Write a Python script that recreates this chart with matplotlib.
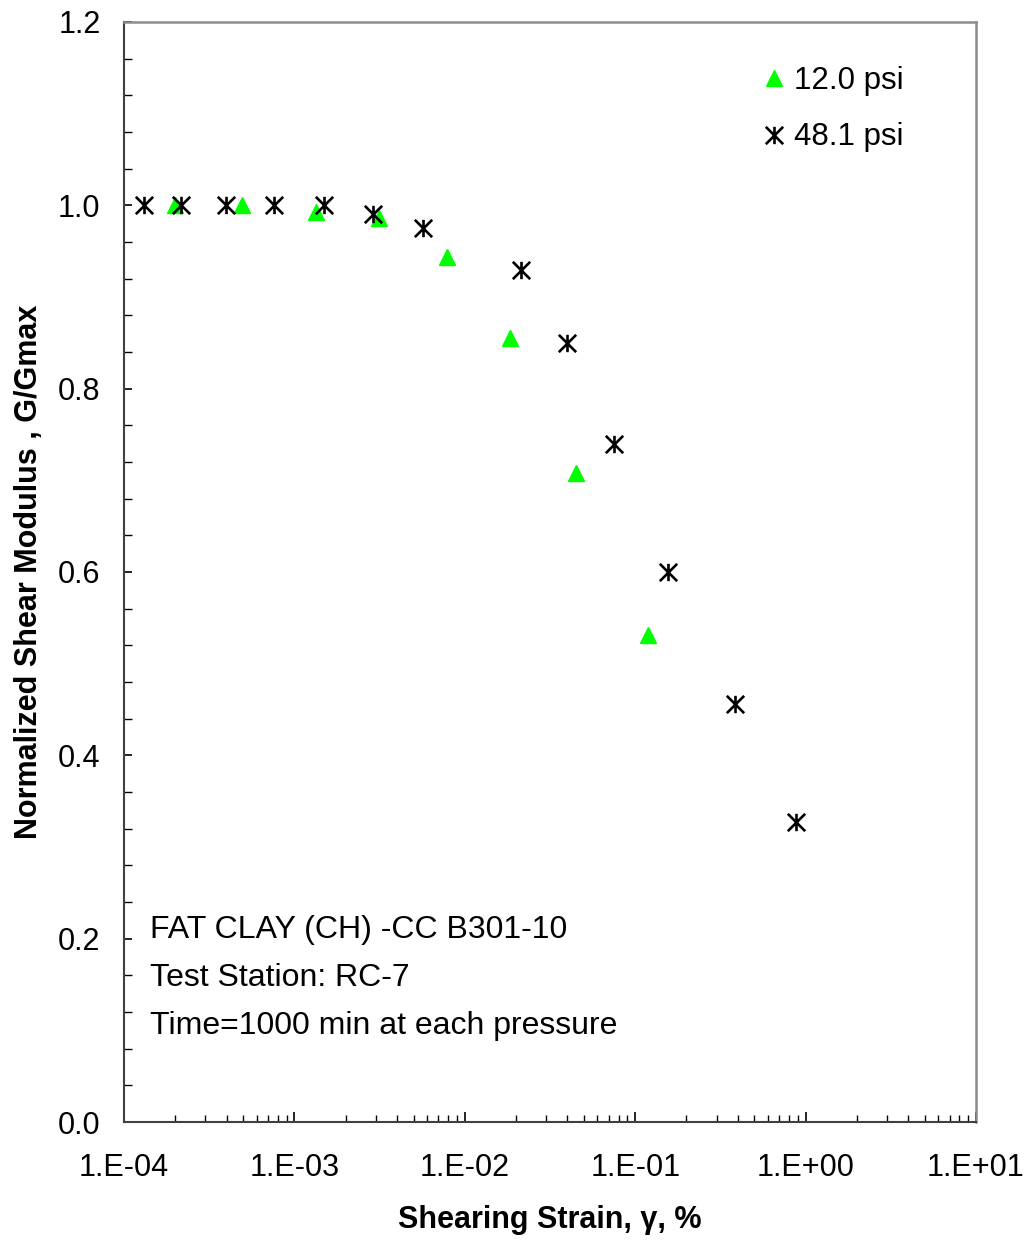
import numpy as np
import matplotlib
matplotlib.use("Agg")
import matplotlib.pyplot as plt
from matplotlib.path import Path
from matplotlib.ticker import FixedLocator, FuncFormatter, MultipleLocator

plt.rcParams['font.family'] = ['Liberation Sans', 'DejaVu Sans']

# 12.0 psi
strain_12 = [1.99e-4, 4.92e-4, 1.34e-3, 3.13e-3, 7.87e-3, 0.0184, 0.045, 0.119]
ggmax_12 = [1.0, 1.0, 0.993, 0.986, 0.944, 0.855, 0.708, 0.531]

# 48.1 psi
strain_48 = [1.31e-4, 2.16e-4, 3.97e-4, 7.59e-4, 1.49e-3, 2.89e-3, 5.69e-3,
             0.0214, 0.0398, 0.0752, 0.156, 0.386, 0.879]
ggmax_48 = [1.0, 1.0, 1.0, 1.0, 1.0, 0.990, 0.975, 0.929, 0.850, 0.740,
            0.600, 0.456, 0.327]

x_ticks = [1e-4, 1e-3, 1e-2, 1e-1, 1e0, 1e1]
notes = ["FAT CLAY (CH) -CC B301-10", "Test Station: RC-7",
         "Time=1000 min at each pressure"]

# asterisk like the excel one: vertical bar + X
star = Path([(-1, -1), (1, 1), (-1, 1), (1, -1), (0, -1), (0, 1)],
            [Path.MOVETO, Path.LINETO, Path.MOVETO, Path.LINETO,
             Path.MOVETO, Path.LINETO])

fig = plt.figure(figsize=(10.27, 12.43), dpi=100)
ax = fig.add_axes([124/1027, 121/1243, 852/1027, 1100/1243])

ax.plot(strain_12, ggmax_12, linestyle='none', marker='^', ms=11.5,
        color='#00ff00', mec='#00ff00', label='12.0 psi', zorder=3)
ax.plot(strain_48, ggmax_48, linestyle='none', marker=star, ms=12.5,
        mew=1.9, color='black', label='48.1 psi', zorder=4)

ax.set_xscale('log')
ax.set_xlim(1e-4, 1e1)
ax.set_ylim(0, 1.2)
ax.xaxis.set_major_locator(FixedLocator(x_ticks))
ax.xaxis.set_major_formatter(FuncFormatter(
    lambda v, p: '1.E%+03d' % int(round(np.log10(v)))))
ax.yaxis.set_major_locator(MultipleLocator(0.2))
ax.yaxis.set_minor_locator(MultipleLocator(0.04))
ax.yaxis.set_major_formatter(FuncFormatter(lambda v, p: '%.1f' % v))

ax.tick_params(axis='x', which='major', direction='in', length=7, width=1.2,
               labelsize=22, pad=22)
ax.tick_params(axis='x', which='minor', direction='in', length=5, width=1.0)
ax.tick_params(axis='y', which='major', direction='in', length=6, width=1.2,
               labelsize=22, pad=17)
ax.tick_params(axis='y', which='minor', direction='in', length=6, width=1.0)

for s in ['left', 'bottom']:
    ax.spines[s].set_color('#404040')
    ax.spines[s].set_linewidth(1.5)
for s in ['top', 'right']:
    ax.spines[s].set_color('#8c8c8c')
    ax.spines[s].set_linewidth(1.8)

ax.set_xlabel('Shearing Strain, γ, %', fontsize=22, fontweight='bold',
              labelpad=16)
ax.set_ylabel('Normalized Shear Modulus , G/Gmax', fontsize=22,
              fontweight='bold', labelpad=10)

ax.legend(loc='upper left', bbox_to_anchor=(0.726, 0.98), frameon=False,
          fontsize=22.5, handlelength=0.6, handletextpad=0.35,
          labelspacing=0.85, borderpad=0.2)

for i, t in enumerate(notes):
    ax.text(0.031, 0.1745 - i * 0.0435, t, transform=ax.transAxes,
            fontsize=23, va='center', ha='left')

fig.savefig('out.png', dpi=100)
